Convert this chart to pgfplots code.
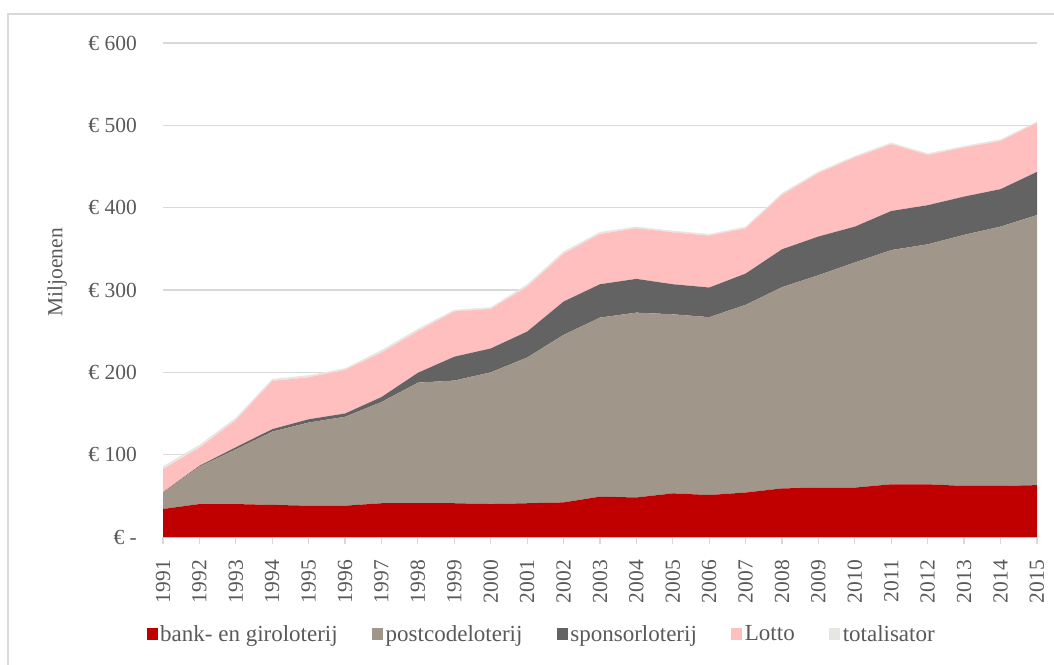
\documentclass[border=0pt]{standalone}
\usepackage{pgfplots}
\pgfplotsset{compat=1.18}
\usepackage{pgfplotstable}
\usepackage{fontspec}
\setmainfont{Liberation Serif}
\definecolor{cBank}{HTML}{C00000}
\definecolor{cPost}{HTML}{A0978A}
\definecolor{cSpon}{HTML}{636363}
\definecolor{cLotto}{HTML}{FFBFBF}
\definecolor{cTot}{HTML}{E8E6E1}
\definecolor{cGrid}{HTML}{D9D9D9}
\definecolor{cText}{HTML}{595959}
\pgfplotstableread{
year bank post spon lotto tot
1991 34 20 0.5 28 3.5
1992 40 45.5 1 22 3.5
1993 40 66.5 2.5 33 3
1994 39 89 3 58.5 2.5
1995 38 101 4 51 2.5
1996 38 108 4 53 2
1997 41 123 6 54 3
1998 41 146.5 12 50.5 3
1999 41 149 29 55 2
2000 40 160 29 48 2
2001 41 177 31.5 54.5 3
2002 42 203.5 40.5 58 3
2003 49 217.5 40.5 61 2.5
2004 48 224.5 41 61.5 2
2005 53 217.5 36.5 63 2
2006 51 216 36 63 2
2007 54 228 38 55 2
2008 59 244.5 46 66 2.5
2009 60 258 47 77 2
2010 60 273.5 43.5 84 2
2011 64 284.5 47.5 81 2
2012 64 291.5 47.5 61 2
2013 62 305 46.5 59.5 2
2014 62 315 45.5 58.5 2
2015 63 328 52.5 59.5 1.5
}\datatable
\begin{document}
\begin{tikzpicture}[x=1pt,y=1pt]
\useasboundingbox (0,0) rectangle (1054,664);
\draw[cGrid, line width=1.2pt] (8,-5) -- (8,650) -- (1060,650);
\begin{axis}[
  at={(163pt,127pt)}, anchor=south west,
  scale only axis, width=874pt, height=494pt,
  xmin=1991, xmax=2015, ymin=0, ymax=600,
  stack plots=y,
  axis x line*=bottom, axis y line*=left,
  x axis line style={cGrid, line width=1.2pt},
  y axis line style={draw=none},
  xtick={1991,...,2015},
  xticklabels={1991,1992,1993,1994,1995,1996,1997,1998,1999,2000,2001,2002,2003,2004,2005,2006,2007,2008,2009,2010,2011,2012,2013,2014,2015},
  xtick align=outside, major tick length=7pt,
  x tick style={cGrid, line width=1.2pt},
  xticklabel style={yshift=-16pt, rotate=90, anchor=east, inner sep=0pt, font=\fontsize{21.5}{24}\selectfont, text=cText},
  ytick={0,100,200,300,400,500,600},
  yticklabels={€ -,€ 100,€ 200,€ 300,€ 400,€ 500,€ 600},
  ymajorgrids, grid style={cGrid, line width=1.2pt},
  y tick style={draw=none},
  yticklabel style={anchor=east, inner sep=0pt, xshift=-26pt, font=\fontsize{21.5}{24}\selectfont, text=cText},
  ylabel={Miljoenen},
  ylabel style={at={(axis description cs:-0.121,0.536)}, anchor=center, font=\fontsize{21.5}{24}\selectfont, text=cText},
  legend columns=5,
  legend style={at={(axis description cs:0.4336,-0.196)}, anchor=center, draw=none, fill=none,
    font=\fontsize{23}{26}\selectfont, text=cText, /tikz/every even column/.append style={column sep=32pt},
    inner sep=0pt, nodes={inner sep=2.5pt}},
  legend image code/.code={\fill[#1] (0pt,-6pt) rectangle (11pt,6pt);},
  legend cell align=left,
]
\addplot[fill=cBank, draw=none] table[x=year,y=bank]{\datatable} \closedcycle;
\addlegendentry{bank- en giroloterij}
\addplot[fill=cPost, draw=none] table[x=year,y=post]{\datatable} \closedcycle;
\addlegendentry{postcodeloterij}
\addplot[fill=cSpon, draw=none] table[x=year,y=spon]{\datatable} \closedcycle;
\addlegendentry{sponsorloterij}
\addplot[fill=cLotto, draw=none] table[x=year,y=lotto]{\datatable} \closedcycle;
\addlegendentry{Lotto}
\addplot[fill=cTot, draw=none] table[x=year,y=tot]{\datatable} \closedcycle;
\addlegendentry{totalisator}
\end{axis}
\end{tikzpicture}
\end{document}
